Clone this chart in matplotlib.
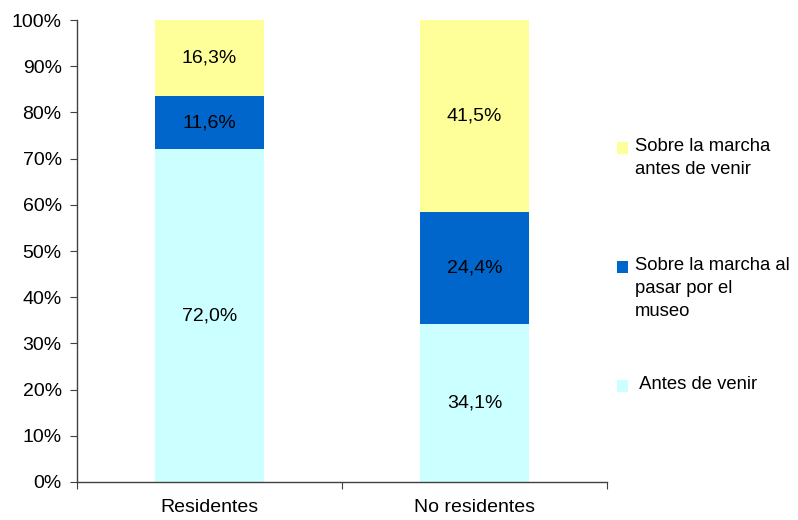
import matplotlib
matplotlib.use("Agg")
import matplotlib.pyplot as plt
from matplotlib.patches import Rectangle
import numpy as np

plt.rcParams["font.family"] = ["Liberation Sans", "DejaVu Sans"]

categories = ["Residentes", "No residentes"]
antes_de_venir = [72.0, 34.1]
al_pasar = [11.6, 24.4]
sobre_antes = [16.3, 41.5]

series = [
    ("Antes de venir", antes_de_venir, "#CCFFFF"),
    ("Sobre la marcha al\npasar por el\nmuseo", al_pasar, "#0066CC"),
    ("Sobre la marcha\nantes de venir", sobre_antes, "#FFFF99"),
]

FS = 14

fig = plt.figure(figsize=(7.98, 5.2), dpi=100)
ax = fig.add_axes([77 / 798, 1 - 482 / 520, 530 / 798, 462 / 520])

x = np.arange(len(categories))
bottom = np.zeros(len(categories))
for label, vals, color in series:
    bars = ax.bar(x, vals, width=0.41, bottom=bottom, color=color, edgecolor="none")
    ax.bar_label(bars, labels=[f"{v:.1f}%".replace(".", ",") for v in vals],
                 label_type="center", fontsize=FS, color="black")
    bottom += np.array(vals)

ax.set_xlim(-0.5, 1.5)
ax.set_ylim(0, 100)
ax.set_yticks(np.arange(0, 101, 10))
ax.set_yticklabels([f"{v}%" for v in range(0, 101, 10)])
ax.set_xticks([-0.5, 0.5, 1.5])
ax.set_xticklabels([])
ax.set_xticks(x, minor=True)
ax.set_xticklabels(categories, minor=True)
ax.tick_params(axis="x", which="major", length=5, direction="out", color="#404040")
ax.tick_params(axis="x", which="minor", length=0, pad=12, labelsize=FS)
ax.tick_params(axis="y", length=5, direction="out", pad=6, labelsize=FS, color="#404040")

for s in ["top", "right"]:
    ax.spines[s].set_visible(False)
for s in ["left", "bottom"]:
    ax.spines[s].set_color("#404040")
    ax.spines[s].set_linewidth(1)

# legend drawn by hand so the square lines up with the first text line
legend_rows = [
    (series[2][0], series[2][2], 148),
    (series[1][0], series[1][2], 267),
    (" " + series[0][0], series[0][2], 386),
]
for text, color, ypix in legend_rows:
    fig.patches.append(Rectangle((617 / 798, 1 - (ypix + 6) / 520), 11 / 798, 12 / 520,
                                 transform=fig.transFigure, facecolor=color,
                                 edgecolor="none"))
    fig.text(635 / 798, 1 - (ypix - 10) / 520, text, fontsize=13.3, va="top",
             linespacing=1.45, transform=fig.transFigure)

fig.savefig("out.png", dpi=100)
